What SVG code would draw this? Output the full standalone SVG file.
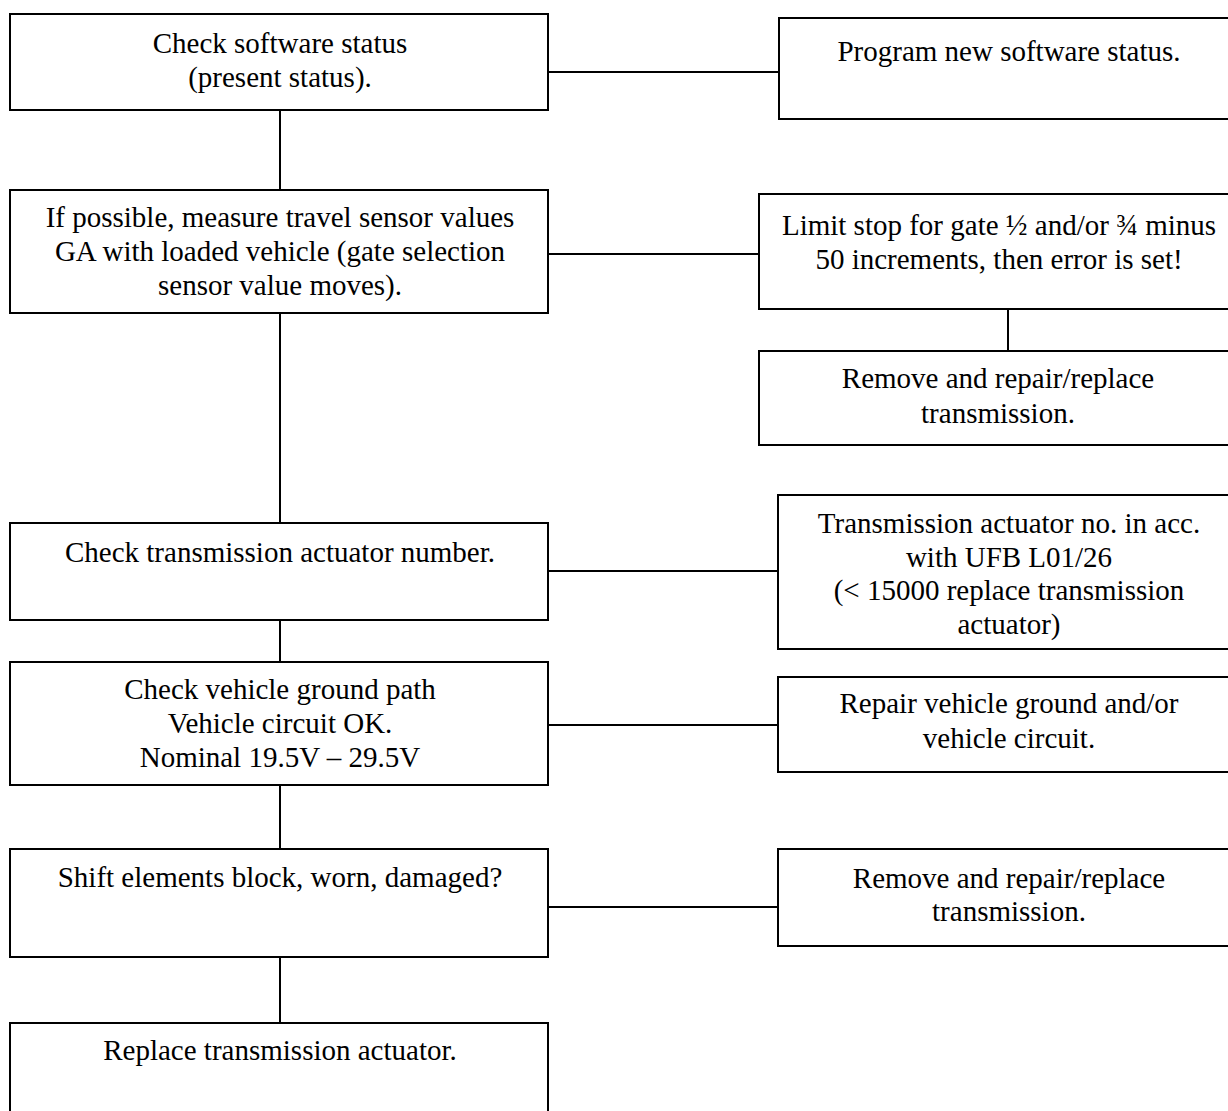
<svg xmlns="http://www.w3.org/2000/svg" width="1228" height="1111" viewBox="0 0 1228 1111">
<style>
.box{fill:#fff;stroke:#000;stroke-width:2}
.t{font-family:"Liberation Serif","Times New Roman",serif;font-size:29px;fill:#000;text-anchor:middle}
.c{stroke:#000;stroke-width:2;fill:none}
</style>
<rect width="1228" height="1111" fill="#fff"/>
<g id="connectors">
<path class="c" d="M280 110V190M280 313V523M280 620V662M280 785V849M280 957V1023"/>
<path class="c" d="M548 72H779M548 254H759M1008 309V351M548 571H778M548 725H778M548 907H778"/>
</g>
<g id="n1"><rect class="box" x="10" y="14" width="538" height="96"/>
<text class="t" x="280" y="53">Check software status</text><text class="t" x="280" y="87">(present status).</text></g>
<g id="n2"><rect class="box" x="779" y="18" width="461" height="101"/>
<text class="t" x="1009" y="61">Program new software status.</text></g>
<g id="n3"><rect class="box" x="10" y="190" width="538" height="123"/>
<text class="t" x="280" y="227">If possible, measure travel sensor values</text><text class="t" x="280" y="261">GA with loaded vehicle (gate selection</text><text class="t" x="280" y="295">sensor value moves).</text></g>
<g id="n4"><rect class="box" x="759" y="194" width="481" height="115"/>
<text class="t" x="999" y="235">Limit stop for gate ½ and/or ¾ minus</text><text class="t" x="999" y="269">50 increments, then error is set!</text></g>
<g id="n5"><rect class="box" x="759" y="351" width="481" height="94"/>
<text class="t" x="998" y="388">Remove and repair/replace</text><text class="t" x="998" y="423">transmission.</text></g>
<g id="n6"><rect class="box" x="10" y="523" width="538" height="97"/>
<text class="t" x="280" y="562">Check transmission actuator number.</text></g>
<g id="n7"><rect class="box" x="778" y="495" width="462" height="154"/>
<text class="t" x="1009" y="533">Transmission actuator no. in acc.</text><text class="t" x="1009" y="567">with UFB L01/26</text><text class="t" x="1009" y="600">(&lt; 15000 replace transmission</text><text class="t" x="1009" y="634">actuator)</text></g>
<g id="n8"><rect class="box" x="10" y="662" width="538" height="123"/>
<text class="t" x="280" y="699">Check vehicle ground path</text><text class="t" x="280" y="733">Vehicle circuit OK.</text><text class="t" x="280" y="767">Nominal 19.5V – 29.5V</text></g>
<g id="n9"><rect class="box" x="778" y="677" width="462" height="95"/>
<text class="t" x="1009" y="713">Repair vehicle ground and/or</text><text class="t" x="1009" y="748">vehicle circuit.</text></g>
<g id="n10"><rect class="box" x="10" y="849" width="538" height="108"/>
<text class="t" x="280" y="887">Shift elements block, worn, damaged?</text></g>
<g id="n11"><rect class="box" x="778" y="849" width="462" height="97"/>
<text class="t" x="1009" y="888">Remove and repair/replace</text><text class="t" x="1009" y="921">transmission.</text></g>
<g id="n12"><rect class="box" x="10" y="1023" width="538" height="100"/>
<text class="t" x="280" y="1060">Replace transmission actuator.</text></g>
</svg>
